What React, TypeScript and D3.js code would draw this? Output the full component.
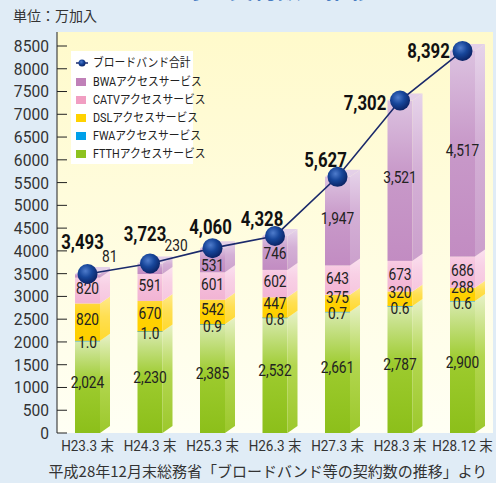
import React from "react";
import * as d3 from "d3";

const categories = ["H23.3末", "H24.3末", "H25.3末", "H26.3末", "H27.3末", "H28.3末", "H28.12末"];
const xLabels = ["H23.3 末", "H24.3 末", "H25.3 末", "H26.3 末", "H27.3 末", "H28.3 末", "H28.12 末"];
const ftth = [2024, 2230, 2385, 2532, 2661, 2787, 2900];
const fwa = [1.0, 1.0, 0.9, 0.8, 0.7, 0.6, 0.6];
const dsl = [820, 670, 542, 447, 375, 320, 288];
const catv = [567, 591, 601, 602, 643, 673, 686];
const bwa = [81, 230, 531, 746, 1947, 3521, 4517];
const totals = [3493, 3723, 4060, 4328, 5627, 7302, 8392];
// printed labels (the source prints 820 for the first CATV value)
const catvText = ["820", "591", "601", "602", "643", "673", "686"];
const yTicks = d3.range(0, 8501, 500);

const W = 496;
const H = 483;
const plot = { left: 57, right: 493, top: 32, bottom: 433 };
const barW = 25;
const depthX = 10;
const depthY = 7;

const NUM_FONT = "Roboto, 'Noto Sans CJK JP', sans-serif";
const JP_FONT = "'Noto Sans CJK JP', 'Noto Sans', sans-serif";

const series = [
  { key: "ftth", name: "FTTHアクセスサービス", values: ftth, swatch: "#8dc21f", front: ["#d8eaae", "#9dcb2e", "#8cbf1a"], side: ["#e6f1c6", "#b2d64f", "#9cc82c"] },
  { key: "fwa", name: "FWAアクセスサービス", values: fwa, swatch: "#00a0e9", front: ["#2aa6e0", "#2aa6e0", "#2aa6e0"], side: ["#6cc3ec", "#6cc3ec", "#6cc3ec"] },
  { key: "dsl", name: "DSLアクセスサービス", values: dsl, swatch: "#ffd200", front: ["#ffd83a", "#ffd200", "#ffcf00"], side: ["#ffe98a", "#ffdf52", "#ffd92e"] },
  { key: "catv", name: "CATVアクセスサービス", values: catv, swatch: "#f19ec2", front: ["#f8cce3", "#f4bcd9", "#f2b4d4"], side: ["#fbe0ef", "#f8d0e5", "#f6c6df"] },
  { key: "bwa", name: "BWAアクセスサービス", values: bwa, swatch: "#c080b8", front: ["#dcc2e0", "#c899c9", "#c28cc2"], side: ["#e6d4ea", "#d4b0d6", "#cba0cc"] },
];

const totalOffsets = [
  [-5, -32], [-5, -29], [-2, -21], [-13, -17], [-12, -17], [-35, 2], [-34, 0],
];

// condensed-looking text: horizontal squeeze around the anchor point
function CText({ x, y, sx = 0.86, children, ...rest }: any) {
  return (
    <text transform={`translate(${x},${y}) scale(${sx},1)`} dy="0.35em" {...rest}>
      {children}
    </text>
  );
}

export default function App() {
  const x = d3.scalePoint<string>().domain(categories).range([87.5, 462.5]);
  const y = d3.scaleLinear().domain([0, 8500]).range([plot.bottom, 46]);

  const stackData = categories.map((c, i) => {
    const row: any = { cat: c };
    series.forEach((s) => (row[s.key] = s.values[i]));
    return row;
  });
  const stacked = d3.stack().keys(series.map((s) => s.key))(stackData);

  const line = d3
    .line<number>()
    .x((_, i) => x(categories[i])!)
    .y((d) => y(d));

  return (
    <svg width={W} height={H} style={{ position: "absolute", left: 0, top: 0, background: "#e0ecf6" }}>
      <defs>
        <linearGradient id="plotBg" x1="0" y1="0" x2="0" y2="1">
          <stop offset="0" stopColor="#fffacb" />
          <stop offset="1" stopColor="#fffff4" />
        </linearGradient>
        {series.map((s) => (
          <React.Fragment key={s.key}>
            <linearGradient id={`f-${s.key}`} x1="0" y1="0" x2="0" y2="1">
              <stop offset="0" stopColor={s.front[0]} />
              <stop offset="0.45" stopColor={s.front[1]} />
              <stop offset="1" stopColor={s.front[2]} />
            </linearGradient>
            <linearGradient id={`s-${s.key}`} x1="0" y1="0" x2="0" y2="1">
              <stop offset="0" stopColor={s.side[0]} />
              <stop offset="0.45" stopColor={s.side[1]} />
              <stop offset="1" stopColor={s.side[2]} />
            </linearGradient>
          </React.Fragment>
        ))}
        <radialGradient id="dot" cx="0.4" cy="0.35" r="0.65">
          <stop offset="0" stopColor="#4f7ccc" />
          <stop offset="0.5" stopColor="#17469a" />
          <stop offset="1" stopColor="#0b2466" />
        </radialGradient>
      </defs>

      {/* title, cut off by the frame */}
      <text x={12} y={-2} fontFamily={JP_FONT} fontWeight="bold" fontSize={24} fill="#1c63b7">
        ブロードバンド等の契約数の推移
      </text>
      <text x={13} y={21} fontFamily={JP_FONT} fontSize={14} fill="#333">
        単位：万加入
      </text>

      <rect x={plot.left} y={plot.top} width={plot.right - plot.left} height={plot.bottom - plot.top} fill="url(#plotBg)" />

      {/* y axis */}
      <line x1={plot.left} x2={plot.left} y1={plot.top} y2={plot.bottom} stroke="#222" strokeWidth={1} />
      {yTicks.map((t) => (
        <g key={t}>
          <line x1={plot.left} x2={plot.left + 10} y1={y(t)} y2={y(t)} stroke="#222" strokeWidth={1} />
          <CText x={49} y={y(t)} sx={0.92} textAnchor="end" fontFamily={NUM_FONT} fontSize={17} fill="#333">
            {t}
          </CText>
        </g>
      ))}

      {/* bars */}
      {categories.map((c, i) => {
        const cx = x(c)!;
        const x0 = cx - barW / 2;
        const x1 = cx + barW / 2;
        const topY = y(totals[i]);
        return (
          <g key={c}>
            {stacked.map((layer, si) => {
              const s = series[si];
              const yb = y(layer[i][0]);
              const yt = y(layer[i][1]);
              if (s.key === "fwa") {
                return <line key={s.key} x1={x0} x2={x1} y1={yt} y2={yt} stroke="#2aa6e0" strokeWidth={1.2} />;
              }
              return (
                <g key={s.key}>
                  <rect x={x0} y={yt} width={barW} height={yb - yt} fill={`url(#f-${s.key})`} />
                  <path
                    d={`M${x1},${yb}L${x1 + depthX},${yb - depthY}L${x1 + depthX},${yt - depthY}L${x1},${yt}Z`}
                    fill={`url(#s-${s.key})`}
                  />
                </g>
              );
            })}
            <path
              d={`M${x0},${topY}L${x0 + depthX},${topY - depthY}L${x1 + depthX},${topY - depthY}L${x1},${topY}Z`}
              fill="#e4d0e8"
            />
          </g>
        );
      })}

      {/* segment labels */}
      {categories.map((c, i) => {
        const cx = x(c)!;
        const lay = (k: number) => stacked[k][i];
        const mid = (k: number) => (y(lay(k)[0]) + y(lay(k)[1])) / 2;
        const fwaY = y(lay(1)[1]) + 2;
        const dslY = Math.min(mid(2) - 3, fwaY - 16);
        const bwaOutside = bwa[i] < 300;
        const props = { fontFamily: NUM_FONT, fontSize: 16, fill: "#222", textAnchor: "middle" as const };
        return (
          <g key={c}>
            <CText x={cx} y={mid(0) - 5} {...props}>{d3.format(",")(ftth[i])}</CText>
            <CText x={cx} y={fwaY} {...props}>{fwa[i].toFixed(1)}</CText>
            <CText x={cx} y={dslY} {...props}>{dsl[i]}</CText>
            <CText x={cx} y={mid(3) - 2} {...props}>{catvText[i]}</CText>
            {bwaOutside ? (
              <CText x={cx + barW / 2 + 2} y={y(totals[i]) - 18} {...props} textAnchor="start">
                {bwa[i]}
              </CText>
            ) : (
              <CText x={cx} y={Math.max(mid(4) - 3, y(totals[i]) + 17)} {...props}>
                {d3.format(",")(bwa[i])}
              </CText>
            )}
          </g>
        );
      })}

      {/* total line */}
      <path d={line(totals)!} fill="none" stroke="#1b2a6b" strokeWidth={1.6} />
      {totals.map((t, i) => {
        const cx = x(categories[i])!;
        const cy = y(t);
        return (
          <g key={i}>
            <circle cx={cx} cy={cy} r={10} fill="url(#dot)" />
            <CText
              x={cx + totalOffsets[i][0]}
              y={cy + totalOffsets[i][1]}
              sx={0.84}
              textAnchor="middle"
              fontFamily={NUM_FONT}
              fontWeight="bold"
              fontSize={20}
              fill="#111"
            >
              {d3.format(",")(t)}
            </CText>
          </g>
        );
      })}

      {/* x labels */}
      {categories.map((c, i) => (
        <CText key={c} x={x(c)!} y={446} sx={0.9} textAnchor="middle" fontFamily={NUM_FONT} fontSize={15} fill="#333">
          {xLabels[i]}
        </CText>
      ))}

      {/* legend */}
      <g transform="translate(71,51)">
        <rect width={122} height={113} fill="#fff" />
        <line x1={5} x2={17} y1={12} y2={12} stroke="#1b2a6b" strokeWidth={1.5} />
        <circle cx={11} cy={12} r={3.5} fill="url(#dot)" />
        <CText x={22} y={12} sx={0.9} fontFamily={NUM_FONT} fontSize={12} fill="#222">
          ブロードバンド合計
        </CText>
        {[...series].reverse().map((s, j) => (
          <g key={s.key} transform={`translate(0,${31 + j * 18})`}>
            <rect x={5} y={-4} width={10} height={8} fill={s.swatch} />
            <CText x={22} y={0} sx={0.9} fontFamily={NUM_FONT} fontSize={12} fill="#222">
              {s.name}
            </CText>
          </g>
        ))}
      </g>

      <text x={268} y={472} dy="0.35em" textAnchor="middle" fontFamily={JP_FONT} fontSize={15} fill="#333">
        平成28年12月末総務省「ブロードバンド等の契約数の推移」より
      </text>
    </svg>
  );
}
